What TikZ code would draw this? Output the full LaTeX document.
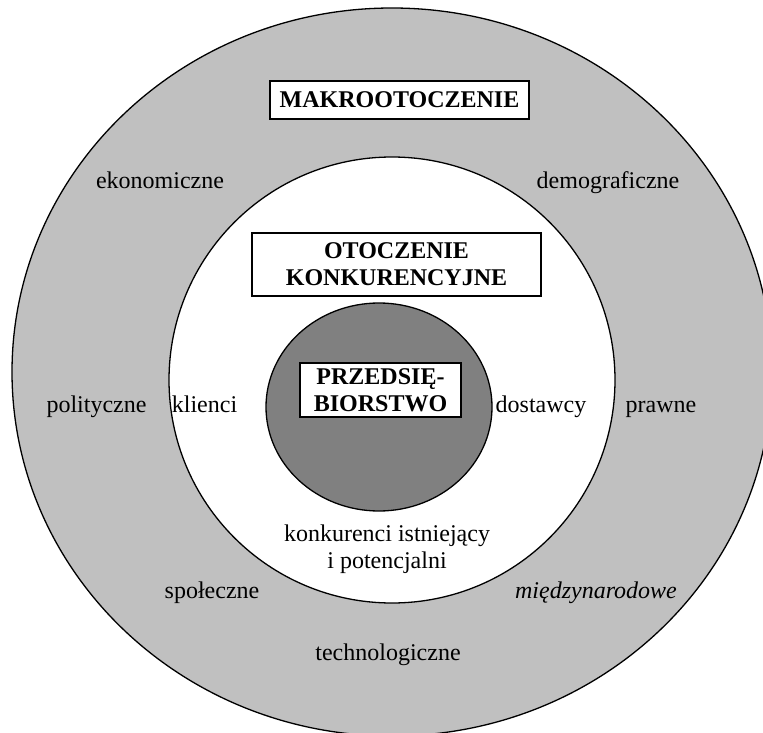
\documentclass[tikz,border=0pt]{standalone}
\usepackage{fontspec}
\setmainfont{Liberation Serif}
\definecolor{ringgray}{HTML}{C0C0C0}
\definecolor{coregray}{HTML}{808080}
\begin{document}
\begin{tikzpicture}[x=1pt,y=-1pt,
  lbl/.style={font=\fontsize{24}{27}\selectfont, inner sep=0pt, anchor=base},
  titlebox/.style={draw=black, line width=1.4pt, fill=white,
    font=\fontsize{24}{27}\selectfont\bfseries, align=center, inner sep=0pt},
  ring/.style={draw=black, line width=1.3pt}]
\useasboundingbox (0,0) rectangle (763,733);
\begin{scope}
  \clip (0,0) rectangle (763,733);
  \filldraw[ring, fill=ringgray] (392,372) ellipse [x radius=380pt, y radius=364pt];
\end{scope}
\filldraw[ring, fill=white] (392,380) circle [radius=223pt];
\filldraw[ring, fill=coregray] (379,407) ellipse [x radius=113pt, y radius=104pt];

\node[titlebox, minimum width=259pt, minimum height=38pt] (makro) at (399.5,100) {MAKROOTOCZENIE};
\node[titlebox, minimum width=289pt, minimum height=63pt] (otocz) at (396.5,264.5) {OTOCZENIE\\KONKURENCYJNE};
\node[titlebox, minimum width=161pt, minimum height=54pt] (przeds) at (380.5,390) {PRZEDSIĘ-\\BIORSTWO};

\node[lbl] (ekon) at (160,188) {ekonomiczne};
\node[lbl] (demo) at (608,188) {demograficzne};
\node[lbl] (polit) at (96.5,412) {polityczne};
\node[lbl] (klien) at (204.5,412) {klienci};
\node[lbl] (dost) at (541,412) {dostawcy};
\node[lbl] (prawne) at (661,412) {prawne};
\node[lbl] (konk1) at (387,541) {konkurenci istniejący};
\node[lbl] (konk2) at (387,568) {i potencjalni};
\node[lbl] (spol) at (212,598) {społeczne};
\node[lbl, font=\fontsize{24}{27}\selectfont\itshape] (miedzy) at (596,598) {międzynarodowe};
\node[lbl] (techno) at (388,660) {technologiczne};
\end{tikzpicture}
\end{document}
